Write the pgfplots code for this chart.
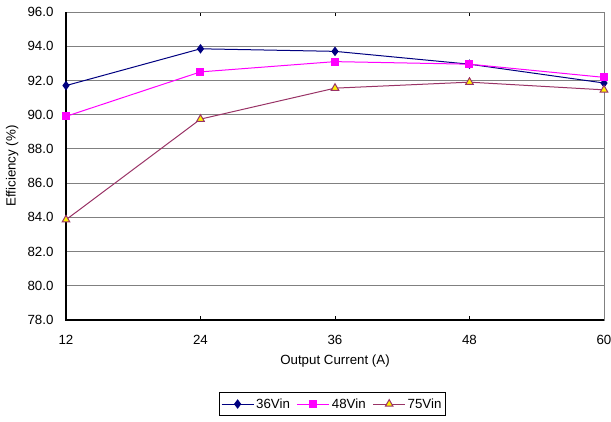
\documentclass[border=0pt]{standalone}
\usepackage{pgfplots}
\pgfplotsset{compat=1.18}
\usepackage{fontspec}
\setmainfont{Liberation Sans}
\definecolor{c36}{RGB}{0,0,128}
\definecolor{c48}{RGB}{255,0,255}
\definecolor{c75}{RGB}{153,51,102}
\definecolor{gridc}{RGB}{128,128,128}
\begin{document}
\begin{tikzpicture}
\path[use as bounding box] (-66pt,-101pt) rectangle (545pt,320pt);
\begin{axis}[
  at={(0,0)}, anchor=south west,
  scale only axis, width=538pt, height=308pt,
  xmin=12, xmax=60, ymin=78, ymax=96,
  xtick={12,24,36,48,60},
  ytick={78,80,...,96},
  ymajorgrids, grid style={gridc, line width=0.9pt},
  axis line style={gridc},
  tick align=inside,
  xtick style={black, line width=0.6pt},
  ytick style={draw=none},
  major tick length=4pt,
  font=\fontsize{13.3}{16}\selectfont,
  /pgf/number format/assume math mode=true,
  yticklabel style={xshift=-9pt, /pgf/number format/.cd, fixed, fixed zerofill, precision=1},
  xticklabel style={anchor=center, yshift=-20pt, /pgf/number format/.cd, fixed, precision=0},
  xlabel={Output Current (A)},
  ylabel={Efficiency (\%)},
  xlabel style={at={(axis description cs:0.5,-0.133)}, anchor=center},
  ylabel style={at={(axis description cs:-0.1,0.5)}, anchor=center},
  legend style={at={(0.495,-0.234)}, anchor=north, legend columns=3, draw=black, line width=0.8pt,
    font=\fontsize{13.3}{16}\selectfont, inner xsep=2pt, inner ysep=4pt,
    /tikz/every even column/.append style={column sep=5pt}},
  legend image code/.code={\draw[mark repeat=2,mark phase=2,#1]
     plot coordinates {(0pt,0pt) (16pt,0pt) (32pt,0pt)};},
  legend cell align=left,
  clip=false,
]
\draw[black, line width=1.2pt] (axis cs:12,96) -- (axis cs:12,78) -- (axis cs:60,78);
\addplot[c36, line width=1pt, mark=diamond*, mark size=4pt, mark options={fill=c36}]
  coordinates {(12,91.7) (24,93.85) (36,93.7) (48,92.95) (60,91.85)};
\addlegendentry{36Vin}
\addplot[c48, line width=1pt, mark=square*, mark size=3.5pt, mark options={fill=c48}]
  coordinates {(12,89.9) (24,92.5) (36,93.1) (48,92.95) (60,92.18)};
\addlegendentry{48Vin}
\addplot[c75, line width=1pt, mark=triangle*, mark size=4.4pt, mark options={fill=yellow, draw=c75}]
  coordinates {(12,83.86) (24,89.74) (36,91.55) (48,91.9) (60,91.45)};
\addlegendentry{75Vin}
\end{axis}
\end{tikzpicture}
\end{document}
